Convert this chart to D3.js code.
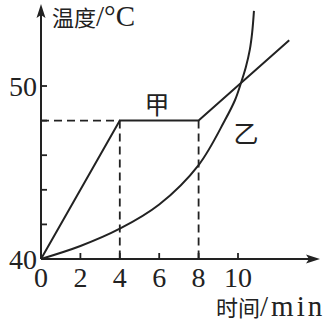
<!DOCTYPE html>
<html>
<head>
<meta charset="utf-8">
<script src="https://cdn.jsdelivr.net/npm/d3@7"></script>
<style>
  body { margin: 0; background: #fff; }
  text { fill: #222; }
  .latin { font-family: "Liberation Serif", "Times New Roman", serif; }
  .cjk { font-family: "Noto Sans CJK SC", sans-serif; }
</style>
</head>
<body>
<svg width="335" height="321"></svg>
<script>
// 甲: melts at 48 °C (flat between 4 and 8 min)
const jiaTime = [0, 4, 8, 12.6];
const jiaTemp = [40, 48, 48, 52.65];

// 乙: keeps heating, steeper and steeper
const yiTime = [0, 2, 4, 6, 8, 9.34, 9.85, 10.15, 10.4, 10.6, 10.72, 10.81];
const yiTemp = [40, 40.75, 41.75, 43.15, 45.43, 48.03, 49.19, 50.17, 51.1, 52.1, 53.1, 54.34];

const xTicks = [2, 4, 6, 8, 10];
const xTickLabels = ["0", "2", "4", "6", "8", "10"];
const yTicks = [42, 44, 46, 48, 50];
const yTickLabels = [40, 50];

const svg = d3.select("svg");
const ink = "#222";

// scales: 0 min at x=41, 10 min at x=238; 40 °C at y=259, 50 °C at y=86
const x = d3.scaleLinear().domain([0, 10]).range([41, 238]);
const y = d3.scaleLinear().domain([40, 50]).range([259, 86]);

// axes with arrows
svg.append("line")
    .attr("x1", x(0)).attr("y1", y(40))
    .attr("x2", 310).attr("y2", y(40))
    .attr("stroke", ink).attr("stroke-width", 2);
svg.append("path")
    .attr("d", `M320,${y(40)} L306,${y(40) - 4.5} L309,${y(40)} L306,${y(40) + 4.5} Z`)
    .attr("fill", ink);

svg.append("line")
    .attr("x1", x(0)).attr("y1", y(40))
    .attr("x2", x(0)).attr("y2", 14)
    .attr("stroke", ink).attr("stroke-width", 2);
svg.append("path")
    .attr("d", `M${x(0)},4 L${x(0) - 4.5},18 L${x(0)},15 L${x(0) + 4.5},18 Z`)
    .attr("fill", ink);

// ticks point inward
svg.selectAll(".xtick")
    .data(xTicks)
    .join("line")
    .attr("x1", d => x(d)).attr("x2", d => x(d))
    .attr("y1", y(40)).attr("y2", y(40) - 6)
    .attr("stroke", ink).attr("stroke-width", 1.8);

svg.selectAll(".ytick")
    .data(yTicks)
    .join("line")
    .attr("x1", x(0)).attr("x2", x(0) + 6)
    .attr("y1", d => y(d)).attr("y2", d => y(d))
    .attr("stroke", ink).attr("stroke-width", 1.8);

// tick labels
svg.selectAll(".xlab")
    .data(xTickLabels)
    .join("text")
    .attr("class", "latin")
    .attr("x", d => x(+d))
    .attr("y", 287)
    .attr("text-anchor", "middle")
    .attr("font-size", 28)
    .text(d => d);

svg.selectAll(".ylab")
    .data(yTickLabels)
    .join("text")
    .attr("class", "latin")
    .attr("x", 37)
    .attr("y", d => y(d) + 10)
    .attr("text-anchor", "end")
    .attr("font-size", 28)
    .text(d => d);

// dashed guides
const dash = "8,5";
svg.append("line")
    .attr("x1", x(0)).attr("y1", y(48)).attr("x2", x(4)).attr("y2", y(48))
    .attr("stroke", ink).attr("stroke-width", 1.8).attr("stroke-dasharray", dash);
[4, 8].forEach(t => {
    svg.append("line")
        .attr("x1", x(t)).attr("y1", y(48)).attr("x2", x(t)).attr("y2", y(40))
        .attr("stroke", ink).attr("stroke-width", 1.8).attr("stroke-dasharray", dash);
});

// curves
const jiaLine = d3.line()
    .x((d, i) => x(jiaTime[i]))
    .y(d => y(d));
svg.append("path")
    .attr("d", jiaLine(jiaTemp))
    .attr("fill", "none").attr("stroke", ink).attr("stroke-width", 2);

const yiLine = d3.line()
    .x((d, i) => x(yiTime[i]))
    .y(d => y(d))
    .curve(d3.curveCatmullRom.alpha(0.5));
svg.append("path")
    .attr("d", yiLine(yiTemp))
    .attr("fill", "none").attr("stroke", ink).attr("stroke-width", 2);

// series labels
svg.append("text").attr("class", "cjk")
    .attr("x", 157).attr("y", 114)
    .attr("text-anchor", "middle").attr("font-size", 25)
    .text("甲");
svg.append("text").attr("class", "cjk")
    .attr("x", 246).attr("y", 143)
    .attr("text-anchor", "middle").attr("font-size", 25)
    .text("乙");

// axis titles
const yTitle = svg.append("text").attr("x", 52).attr("y", 26);
yTitle.append("tspan").attr("class", "cjk").attr("font-size", 22).text("温度");
yTitle.append("tspan").attr("class", "latin").attr("font-size", 29).text("/°C");

const xTitle = svg.append("text").attr("x", 216).attr("y", 316);
xTitle.append("tspan").attr("class", "cjk").attr("font-size", 22).text("时间");
xTitle.append("tspan").attr("class", "latin").attr("font-size", 29)
    .attr("letter-spacing", 3).text("/min");
</script>
</body>
</html>
